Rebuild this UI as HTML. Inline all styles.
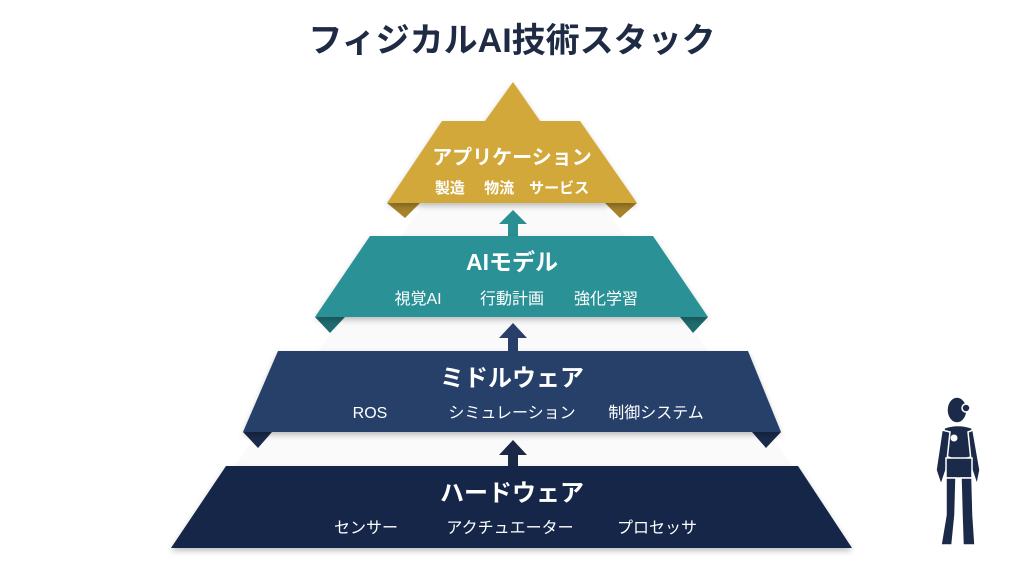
<!DOCTYPE html>
<html><head><meta charset="utf-8"><style>
html,body{margin:0;padding:0;background:#fff;}
body{width:1024px;height:572px;overflow:hidden;font-family:"Liberation Sans","Noto Sans CJK JP",sans-serif;}
</style></head><body>
<svg width="1024" height="572" viewBox="0 0 1024 572" xmlns="http://www.w3.org/2000/svg" font-family="Liberation Sans, Noto Sans CJK JP, sans-serif">
<defs>
<filter id="sh" x="-10%" y="-20%" width="120%" height="150%"><feDropShadow dx="0" dy="3" stdDeviation="3" flood-color="#000" flood-opacity="0.25"/></filter>
</defs>
<polygon points="513,82 175,548 852,548" fill="#fafafb"/>
<text x="512" y="52" text-anchor="middle" font-size="34" font-weight="bold" fill="#1f2b45">フィジカルAI技術スタック</text>

<!-- yellow -->
<polygon points="387,203 405,218 420,203" fill="#a7822a"/>
<polygon points="637,203 620,218 605,203" fill="#a7822a"/>
<polygon points="513,82 540,121 580,121 637,203 387,203 442,121 485,121" fill="#d3a83a" filter="url(#sh)"/>
<text x="512" y="164" text-anchor="middle" font-size="20" font-weight="bold" fill="#fff">アプリケーション</text>
<text x="512" y="193" text-anchor="middle" font-size="15" font-weight="bold" fill="#fff">製造　 物流　サービス</text>

<rect x="508" y="222" width="10" height="16" fill="#2a8e92"/>
<polygon points="499,224 513,210 527,224" fill="#2a8e92"/>

<!-- teal -->
<polygon points="315,317 330,333 345,317" fill="#1f6c70"/>
<polygon points="708,317 693,333 680,317" fill="#1f6c70"/>
<polygon points="370,236 653,236 708,317 315,317" fill="#2a9296" filter="url(#sh)"/>
<text x="512" y="270" text-anchor="middle" font-size="23" font-weight="bold" fill="#fff">AIモデル</text>
<text x="418" y="304" text-anchor="middle" font-size="16" fill="#fff">視覚AI</text>
<text x="512" y="304" text-anchor="middle" font-size="16" fill="#fff">行動計画</text>
<text x="606" y="304" text-anchor="middle" font-size="16" fill="#fff">強化学習</text>

<rect x="508" y="335" width="10" height="17" fill="#283f6a"/>
<polygon points="499,338 513,323 527,338" fill="#283f6a"/>

<!-- mid -->
<polygon points="243,432 258,448 272,432" fill="#1a2a4a"/>
<polygon points="781,432 766,448 752,432" fill="#1a2a4a"/>
<polygon points="278,351 748,351 781,432 243,432" fill="#283f6a" filter="url(#sh)"/>
<text x="512" y="386" text-anchor="middle" font-size="24" font-weight="bold" fill="#fff">ミドルウェア</text>
<text x="370" y="418" text-anchor="middle" font-size="16" fill="#fff">ROS</text>
<text x="512" y="418" text-anchor="middle" font-size="16" fill="#fff">シミュレーション</text>
<text x="656" y="418" text-anchor="middle" font-size="16" fill="#fff">制御システム</text>

<rect x="508" y="452" width="10" height="16" fill="#1b2947"/>
<polygon points="499,455 513,440 527,455" fill="#1b2947"/>

<!-- hardware -->
<polygon points="226,466 798,466 852,548 171,548" fill="#182848" filter="url(#sh)"/>
<text x="512" y="501" text-anchor="middle" font-size="24" font-weight="bold" fill="#fff">ハードウェア</text>
<text x="366" y="533" text-anchor="middle" font-size="16" fill="#fff">センサー</text>
<text x="510" y="533" text-anchor="middle" font-size="16" fill="#fff">アクチュエーター</text>
<text x="657" y="533" text-anchor="middle" font-size="16" fill="#fff">プロセッサ</text>

<!-- robot -->
<g fill="#1c2a4a" stroke="#fff" stroke-width="1.5">
<ellipse cx="957" cy="410" rx="10" ry="13"/>
<circle cx="966" cy="408" r="4"/>
<path d="M944,428 Q958,423 972,428 L974,456 Q958,462 946,456 Z"/>
<path d="M942,430 L936,470 L941,485 L946,470 L950,432 Z"/>
<path d="M973,430 L980,470 L977,485 L972,470 L968,432 Z"/>
<path d="M946,458 L972,458 L972,478 L946,478 Z"/>
<path d="M946,478 L956,478 L955,515 L952,545 L941,545 L946,515 Z"/>
<path d="M961,478 L972,478 L973,515 L975,545 L963,545 L962,515 Z"/>
</g>
<circle cx="954" cy="438" r="3.5" fill="#fff"/>
</svg>
</body></html>
